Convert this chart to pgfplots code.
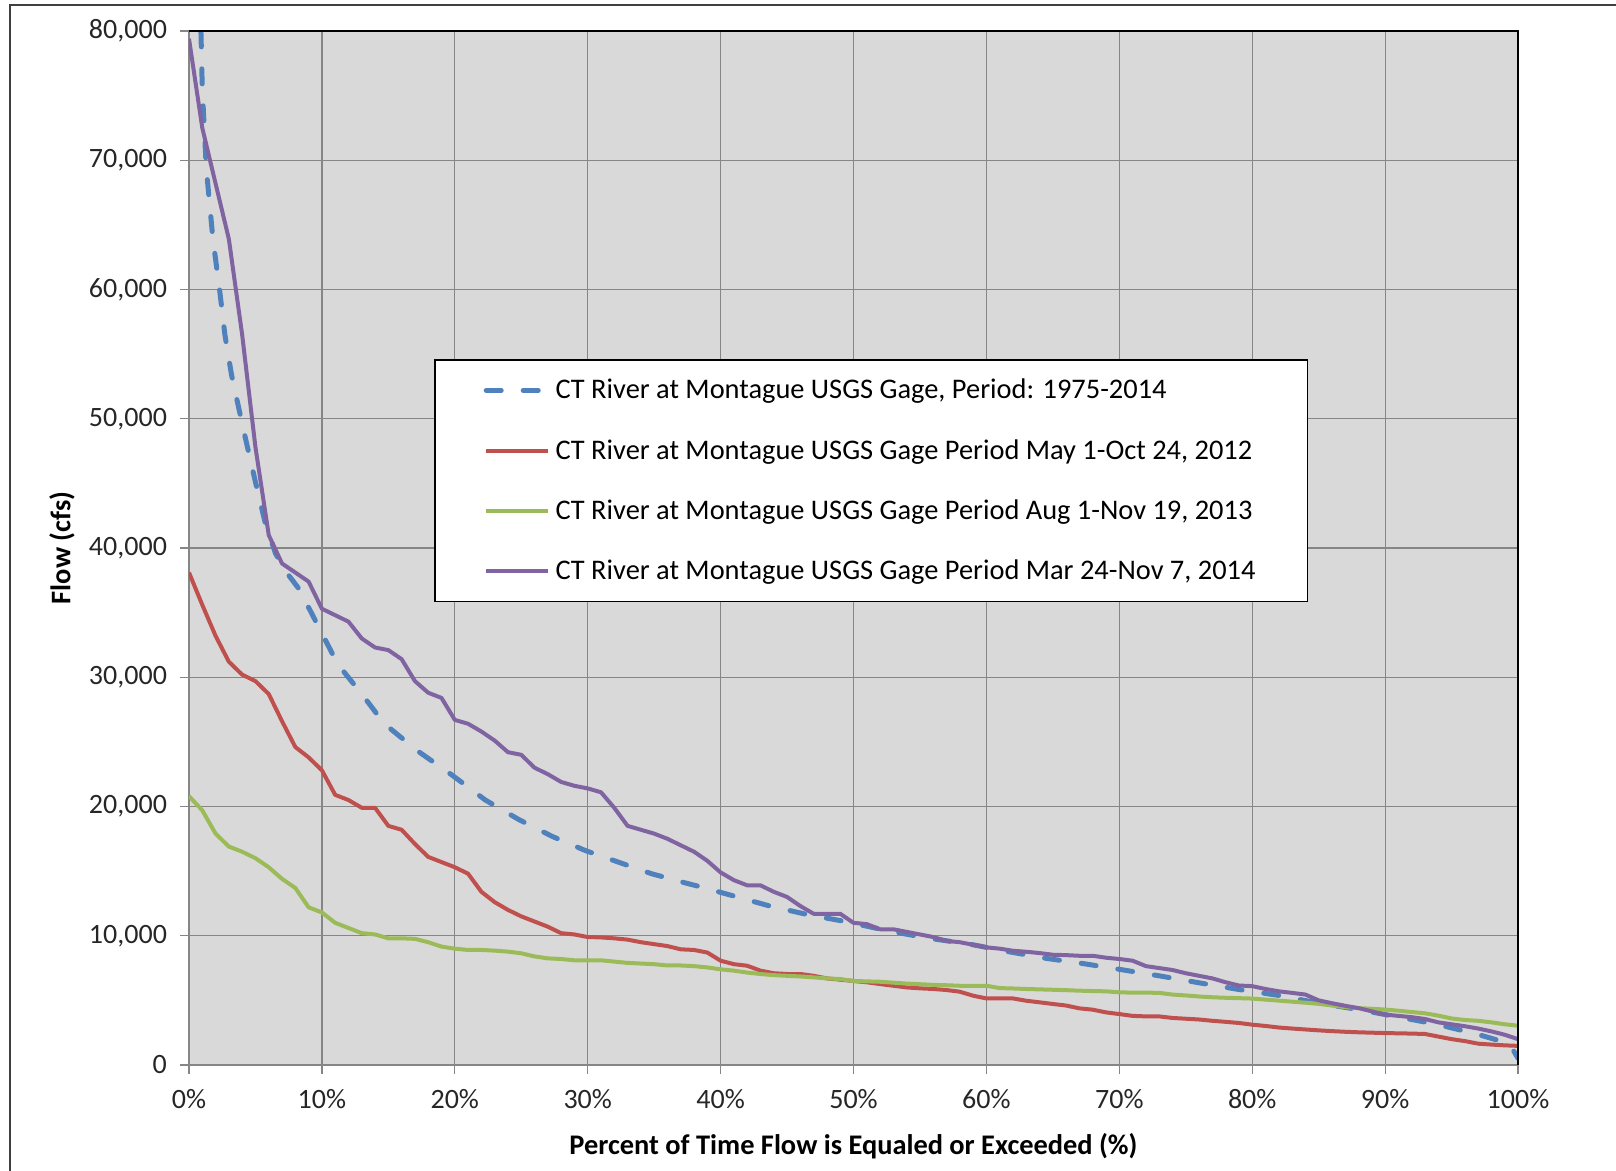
\documentclass[border=0pt]{standalone}
\usepackage{pgfplots}
\pgfplotsset{compat=1.18}
\usepackage{fontspec}
\setmainfont{Carlito}
\definecolor{cblue}{HTML}{4F81BD}
\definecolor{cred}{HTML}{C0504D}
\definecolor{cgreen}{HTML}{9BBB59}
\definecolor{cpurple}{HTML}{8064A2}
\definecolor{pbg}{HTML}{D9D9D9}
\definecolor{gridc}{HTML}{868686}
\begin{document}
\begin{tikzpicture}
\path[use as bounding box] (-94.5pt,-53pt) rectangle (713.5pt,532.5pt);
\draw[line width=1pt, black!75] (-89.5pt,-70pt) -- (-89.5pt,530pt) -- (730pt,530pt);
\begin{axis}[
  scale only axis,
  width=664.5pt, height=517pt,
  xmin=0, xmax=100, ymin=0, ymax=80000,
  xtick={0,10,...,100},
  ytick={0,10000,...,80000},
  scaled y ticks=false,
  xticklabel={\pgfmathprintnumber{\tick}\%},
  /pgf/number format/.cd, fixed, 1000 sep={,}, assume math mode=true,
  /pgfplots/.cd,
  tick pos=left,
  tick align=outside,
  major tick length=4.5pt,
  tick style={gridc, line width=0.6pt},
  grid=major,
  grid style={gridc, line width=0.6pt},
  axis line style={gridc, line width=0.6pt},
  axis background/.style={fill=pbg},
  ticklabel style={font=\fontsize{14pt}{16pt}\selectfont, text=black!85},
  xticklabel style={yshift=-4pt},
  yticklabel style={xshift=-3pt},
  xlabel={\textbf{Percent of Time Flow is Equaled or Exceeded (\%)}},
  ylabel={\textbf{Flow (cfs)}},
  label style={font=\fontsize{14.2pt}{16pt}\selectfont},
  xlabel style={at={([yshift=-40.5pt]rel axis cs:0.5,0)}, anchor=center},
  ylabel style={at={([xshift=-63.5pt]rel axis cs:0,0.5)}, anchor=center},
  legend cell align=left,
  legend image code/.code={\draw[#1] (0pt,0pt) -- (31pt,0pt);},
  legend style={at={(rel axis cs:0.1843,0.6828)}, anchor=north west,
    draw=black, line width=0.8pt, fill=white,
    font=\fontsize{14.2pt}{16pt}\selectfont,
    inner xsep=24.5pt, inner ysep=8pt, row sep=15.65pt, column sep=1pt,
    nodes={inner sep=1.5pt, text height=10pt, text depth=1.5pt}},
  after end axis/.code={
    \draw[black, line width=0.8pt] (rel axis cs:0,1) -- (rel axis cs:1,1) -- (rel axis cs:1,0);
  },
]
\addplot[cblue, line width=2.5pt, line cap=round, dash pattern=on 7.5pt off 11pt] coordinates {
(0,120000) (1,75500) (1.3,69400) (1.8,63900) (2.3,60000) (2.7,56500) (3.2,53400) (3.6,51500)
(4.2,48700) (5,45100) (5.7,42100) (6.5,39600) (7.2,38300) (8.3,36800) (10,33400) (11.2,31000)
(13,28700) (14.7,26400) (17.2,24300) (19.7,22500) (22.3,20500) (24.8,19000) (27.3,17700)
(29.8,16600) (32.3,15700) (34.8,14800) (37.3,14100) (38.8,13700) (40.9,13100) (43.7,12300)
(46.7,11600) (49.4,11100) (52.5,10400) (55.7,9800) (58.7,9360) (61.7,8760) (64.5,8250)
(67.2,7860) (70.2,7370) (73,6900) (76,6360) (79,5840) (82,5380) (85.2,4750) (88,4290)
(91,3710) (93.8,3170) (96.8,2420) (98.8,1820) (99.5,1400) (100,520)
};
\addlegendentry{CT River at Montague USGS Gage, Period: 1975-2014}
\addplot[cred, line width=2pt, line join=round] coordinates {
(0,38100) (1,35600) (2,33200) (3,31200) (4,30200) (5,29700) (6,28700) (7,26600) (8,24600) (9,23800)
(10,22800) (11,20900) (12,20500) (13,19900) (14,19900) (15,18500) (16,18200) (17,17100) (18,16100) (19,15700)
(20,15300) (21,14800) (22,13400) (23,12600) (24,12000) (25,11500) (26,11100) (27,10700) (28,10200) (29,10100)
(30,9900) (31,9870) (32,9800) (33,9700) (34,9500) (35,9350) (36,9200) (37,8950) (38,8900) (39,8700)
(40,8070) (41,7800) (42,7680) (43,7300) (44,7100) (45,7040) (46,7040) (47,6900) (48,6700) (49,6600)
(50,6500) (51,6400) (52,6260) (53,6130) (54,6000) (55,5930) (56,5880) (57,5800) (58,5670) (59,5360)
(60,5150) (61,5150) (62,5150) (63,4970) (64,4850) (65,4720) (66,4600) (67,4380) (68,4280) (69,4070)
(70,3940) (71,3800) (72,3760) (73,3760) (74,3640) (75,3580) (76,3520) (77,3420) (78,3340) (79,3250)
(80,3120) (81,3020) (82,2900) (83,2820) (84,2750) (85,2680) (86,2620) (87,2570) (88,2530) (89,2500)
(90,2470) (91,2450) (92,2430) (93,2400) (94,2200) (95,2000) (96,1850) (97,1650) (98,1580) (99,1520) (100,1480)
};
\addlegendentry{CT River at Montague USGS Gage Period May 1-Oct 24, 2012}
\addplot[cgreen, line width=2pt, line join=round] coordinates {
(0,20800) (1,19700) (2,17900) (3,16900) (4,16500) (5,16000) (6,15300) (7,14400) (8,13700) (9,12200)
(10,11800) (11,11000) (12,10600) (13,10200) (14,10100) (15,9800) (16,9800) (17,9760) (18,9500) (19,9160)
(20,9000) (21,8900) (22,8900) (23,8850) (24,8770) (25,8640) (26,8400) (27,8250) (28,8200) (29,8100)
(30,8100) (31,8100) (32,8000) (33,7900) (34,7850) (35,7800) (36,7700) (37,7700) (38,7650) (39,7550)
(40,7400) (41,7300) (42,7150) (43,7040) (44,6950) (45,6900) (46,6850) (47,6780) (48,6700) (49,6650)
(50,6500) (51,6470) (52,6440) (53,6370) (54,6300) (55,6250) (56,6200) (57,6170) (58,6130) (59,6130)
(60,6130) (61,5950) (62,5920) (63,5880) (64,5850) (65,5820) (66,5790) (67,5750) (68,5720) (69,5700)
(70,5620) (71,5600) (72,5600) (73,5580) (74,5450) (75,5380) (76,5300) (77,5240) (78,5200) (79,5170)
(80,5140) (81,5060) (82,4980) (83,4900) (84,4820) (85,4730) (86,4600) (87,4480) (88,4400) (89,4350)
(90,4290) (91,4200) (92,4100) (93,4000) (94,3820) (95,3600) (96,3480) (97,3420) (98,3300) (99,3150) (100,3040)
};
\addlegendentry{CT River at Montague USGS Gage Period Aug 1-Nov 19, 2013}
\addplot[cpurple, line width=2pt, line join=round] coordinates {
(0,79400) (1,72500) (2,68200) (3,63900) (4,56500) (5,47800) (6,41000) (7,38800) (8,38100) (9,37400)
(10,35300) (11,34800) (12,34300) (13,33000) (14,32300) (15,32100) (16,31400) (17,29700) (18,28800) (19,28400)
(20,26700) (21,26400) (22,25800) (23,25100) (24,24200) (25,24000) (26,23000) (27,22500) (28,21900) (29,21600)
(30,21400) (31,21100) (32,19900) (33,18500) (34,18200) (35,17900) (36,17500) (37,17000) (38,16500) (39,15800)
(40,14900) (41,14300) (42,13900) (43,13900) (44,13400) (45,13000) (46,12300) (47,11700) (48,11700) (49,11700)
(50,11000) (51,10900) (52,10500) (53,10500) (54,10300) (55,10100) (56,9900) (57,9600) (58,9500) (59,9300)
(60,9100) (61,9000) (62,8840) (63,8760) (64,8660) (65,8530) (66,8500) (67,8450) (68,8450) (69,8300)
(70,8200) (71,8070) (72,7650) (73,7500) (74,7350) (75,7100) (76,6900) (77,6700) (78,6400) (79,6150)
(80,6100) (81,5880) (82,5700) (83,5580) (84,5450) (85,5000) (86,4780) (87,4580) (88,4400) (89,4150)
(90,3900) (91,3800) (92,3700) (93,3560) (94,3300) (95,3150) (96,3000) (97,2820) (98,2600) (99,2340) (100,2000)
};
\addlegendentry{CT River at Montague USGS Gage Period Mar 24-Nov 7, 2014}
\end{axis}
\end{tikzpicture}
\end{document}
